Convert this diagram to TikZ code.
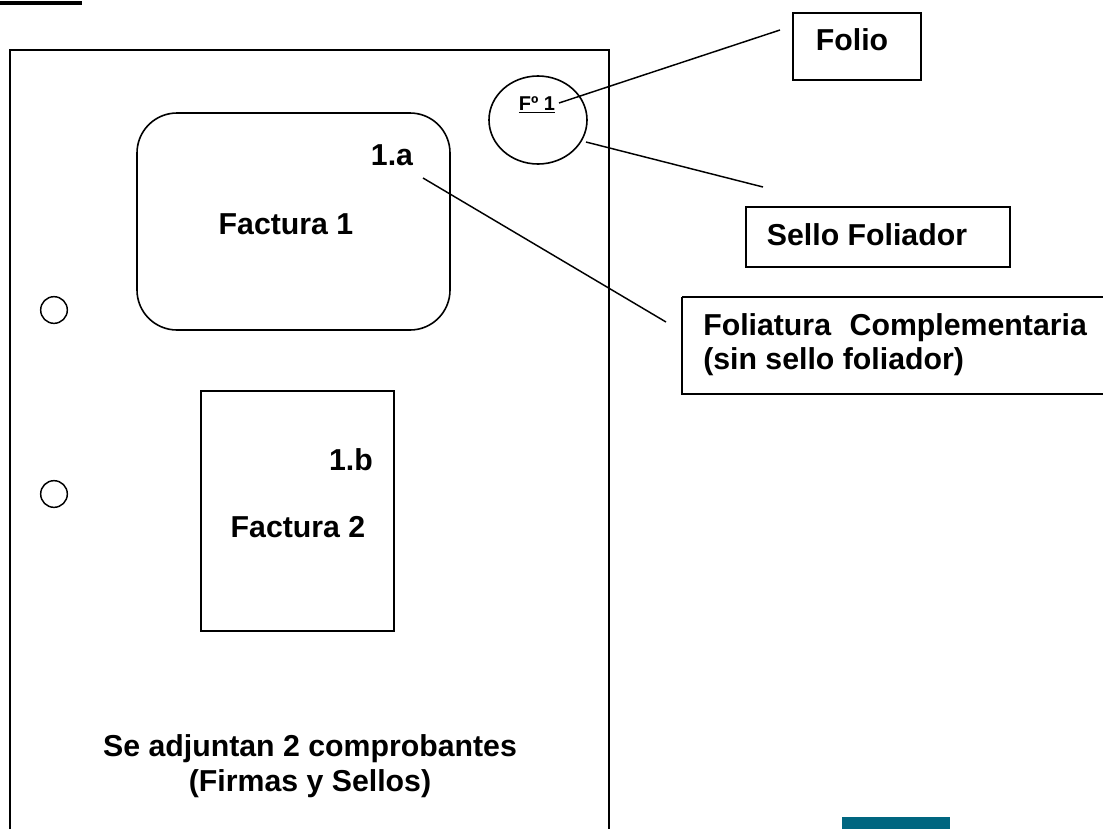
\documentclass[tikz,border=0pt]{standalone}
\usepackage{fontspec}
\setmainfont{Liberation Sans}
\begin{document}
\begin{tikzpicture}[x=0.75pt,y=-0.75pt,
  lbl/.style={font=\fontsize{22.7}{27}\selectfont\bfseries, inner sep=0pt},
  box/.style={draw, line width=1.2pt},
  conn/.style={line width=1.1pt}]
\useasboundingbox (0,0) rectangle (1103,829);
% top-left underline fragment
\draw[line width=3pt] (0,3) -- (82,3);
% page
\draw[line width=1.4pt] (10,829) -- (10,50) -- (609,50) -- (609,829);
% holes
\node[draw, circle, line width=1.1pt, minimum size=20pt, inner sep=0pt] (h1) at (54,310) {};
\node[draw, circle, line width=1.1pt, minimum size=20pt, inner sep=0pt] (h2) at (54,494) {};
% Factura 1
\draw[box, rounded corners=30pt] (137,113) rectangle (450,330);
\node[lbl] (f1) at (286,224) {Factura 1};
\node[lbl] (a1) at (392,155) {1.a};
% Factura 2
\draw[box] (201,391) rectangle (394,631);
\node[lbl] (f2) at (298,527) {Factura 2};
\node[lbl] (b1) at (351,460) {1.b};
% stamp
\draw[line width=1.2pt] (538,120) ellipse [x radius=49, y radius=44];
\node[font=\fontsize{15}{18}\selectfont\bfseries, inner sep=0pt] (fo) at (537,105) {\underline{Fº 1}};
% Folio box
\draw[box] (793,13) rectangle (921,80);
\node[lbl] (folio) at (852,40) {Folio};
\coordinate (folioend) at (780,30);
\draw[conn] (559,103) -- (folioend);
% Sello foliador
\draw[box] (746,207) rectangle (1010,267);
\node[lbl] (sello) at (867,235) {Sello Foliador};
\coordinate (selloend) at (763,187);
\draw[conn] (586,142) -- (selloend);
% Foliatura complementaria
\draw[box] (682,297) -- (1110,297) (682,297) -- (682,394) -- (1110,394);
\node[lbl, anchor=west] (fc1) at (703,328) {Foliatura\hspace{14pt}Complementaria};
\node[lbl, anchor=west] (fc2) at (703,362) {(sin sello foliador)};
\coordinate (fcend) at (666,322);
\draw[conn] (423,178) -- (fcend);
% bottom text
\node[lbl] (s1) at (310,749) {Se adjuntan 2 comprobantes};
\node[lbl] (s2) at (310,784) {(Firmas y Sellos)};
% teal bar
\fill[fill={rgb,255:red,0;green,102;blue,128}] (842,817) rectangle (950,829);
\end{tikzpicture}
\end{document}
